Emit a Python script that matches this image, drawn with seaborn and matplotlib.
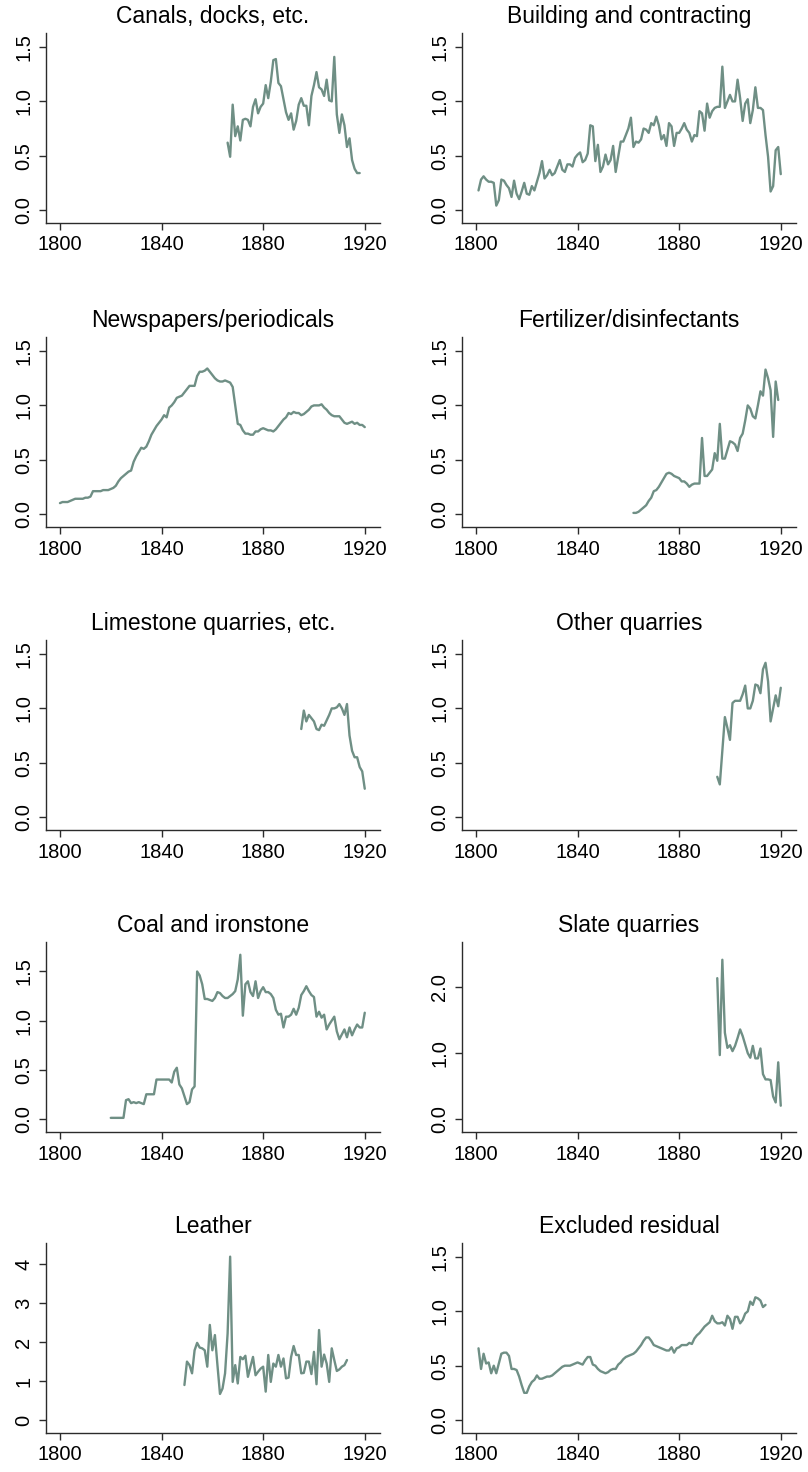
import numpy as np
import pandas as pd
import matplotlib
matplotlib.use("Agg")
import matplotlib.pyplot as plt
import seaborn as sns

# ---------------- data ----------------
canals_start = 1866
canals = [0.62, 0.49, 0.97, 0.68, 0.77, 0.64, 0.83, 0.84, 0.83, 0.77, 0.95, 1.02, 0.89, 0.95,
          0.98, 1.15, 1.03, 1.18, 1.38, 1.39, 1.17, 1.14, 1.02, 0.90, 0.83, 0.89, 0.74, 0.82,
          0.97, 1.03, 0.96, 0.96, 0.78, 1.05, 1.15, 1.27, 1.13, 1.11, 1.05, 1.20, 1.01, 1.00,
          1.41, 0.88, 0.71, 0.88, 0.78, 0.58, 0.66, 0.46, 0.38, 0.34, 0.34]

building_start = 1801
building = [0.18, 0.28, 0.31, 0.28, 0.26, 0.26, 0.25, 0.04, 0.09, 0.28, 0.27, 0.23, 0.20, 0.12,
            0.27, 0.15, 0.10, 0.17, 0.25, 0.15, 0.14, 0.22, 0.18, 0.26, 0.34, 0.45, 0.29, 0.32,
            0.37, 0.32, 0.34, 0.40, 0.46, 0.37, 0.35, 0.42, 0.42, 0.40, 0.48, 0.51, 0.53, 0.44,
            0.46, 0.52, 0.78, 0.77, 0.45, 0.60, 0.35, 0.40, 0.51, 0.42, 0.46, 0.59, 0.35, 0.49,
            0.63, 0.63, 0.69, 0.75, 0.85, 0.58, 0.63, 0.62, 0.65, 0.75, 0.74, 0.71, 0.80, 0.78,
            0.86, 0.78, 0.65, 0.69, 0.59, 0.80, 0.77, 0.59, 0.71, 0.71, 0.75, 0.80, 0.74, 0.71,
            0.63, 0.69, 0.68, 0.91, 0.89, 0.73, 0.98, 0.85, 0.91, 0.94, 0.95, 0.95, 1.32, 0.94,
            1.00, 1.06, 1.00, 1.00, 1.20, 1.03, 0.82, 0.98, 1.02, 0.80, 0.92, 1.13, 0.94, 0.94,
            0.92, 0.69, 0.49, 0.17, 0.22, 0.55, 0.58, 0.33]

news_start = 1800
news = [0.10, 0.11, 0.11, 0.11, 0.12, 0.13, 0.14, 0.14, 0.14, 0.14, 0.15, 0.15, 0.16, 0.21,
        0.21, 0.21, 0.21, 0.22, 0.22, 0.22, 0.23, 0.24, 0.26, 0.30, 0.33, 0.35, 0.37, 0.39,
        0.40, 0.48, 0.53, 0.57, 0.61, 0.60, 0.62, 0.67, 0.73, 0.77, 0.81, 0.84, 0.87, 0.91,
        0.89, 0.98, 1.00, 1.03, 1.07, 1.08, 1.09, 1.12, 1.15, 1.18, 1.18, 1.18, 1.27, 1.31,
        1.31, 1.32, 1.34, 1.31, 1.28, 1.25, 1.23, 1.22, 1.22, 1.23, 1.22, 1.21, 1.17, 1.00,
        0.83, 0.82, 0.77, 0.74, 0.74, 0.73, 0.73, 0.76, 0.76, 0.78, 0.79, 0.78, 0.77, 0.77,
        0.76, 0.78, 0.81, 0.84, 0.87, 0.89, 0.93, 0.92, 0.94, 0.93, 0.93, 0.91, 0.92, 0.94,
        0.96, 0.99, 1.00, 1.00, 1.00, 1.01, 0.98, 0.96, 0.93, 0.91, 0.90, 0.90, 0.90, 0.87,
        0.84, 0.83, 0.84, 0.85, 0.83, 0.84, 0.82, 0.82, 0.80]

fert_start = 1862
fert = [0.01, 0.01, 0.02, 0.04, 0.06, 0.08, 0.12, 0.15, 0.21, 0.22, 0.25, 0.29, 0.33, 0.37,
        0.38, 0.37, 0.35, 0.34, 0.33, 0.30, 0.30, 0.28, 0.25, 0.27, 0.28, 0.28, 0.28, 0.70,
        0.35, 0.35, 0.38, 0.41, 0.56, 0.49, 0.83, 0.51, 0.51, 0.59, 0.67, 0.66, 0.64, 0.58,
        0.70, 0.74, 0.86, 1.00, 0.97, 0.90, 0.88, 1.00, 1.13, 1.09, 1.33, 1.25, 1.14, 0.71,
        1.22, 1.05]

lime_start = 1895
lime = [0.81, 0.98, 0.88, 0.94, 0.91, 0.88, 0.81, 0.80, 0.85, 0.84, 0.89, 0.94, 1.00, 1.00,
        1.01, 1.04, 1.00, 0.94, 1.04, 0.75, 0.61, 0.55, 0.55, 0.46, 0.42, 0.26]

otherq_start = 1895
otherq = [0.37, 0.30, 0.61, 0.92, 0.82, 0.71, 1.05, 1.07, 1.07, 1.07, 1.13, 1.21, 1.00, 1.00,
          1.07, 1.22, 1.21, 1.14, 1.36, 1.42, 1.25, 0.88, 1.00, 1.12, 1.02, 1.19]

coal_start = 1820
coal = [0.01, 0.01, 0.01, 0.01, 0.01, 0.01, 0.19, 0.20, 0.16, 0.17, 0.16, 0.17, 0.16, 0.15,
        0.25, 0.25, 0.25, 0.25, 0.40, 0.40, 0.40, 0.40, 0.40, 0.40, 0.37, 0.48, 0.52, 0.35,
        0.31, 0.23, 0.15, 0.17, 0.30, 0.33, 1.50, 1.46, 1.37, 1.22, 1.22, 1.21, 1.20, 1.23,
        1.29, 1.28, 1.25, 1.23, 1.23, 1.25, 1.27, 1.30, 1.42, 1.67, 1.05, 1.37, 1.40, 1.29,
        1.25, 1.40, 1.23, 1.30, 1.34, 1.29, 1.29, 1.27, 1.23, 1.11, 1.06, 1.07, 0.93, 1.04,
        1.04, 1.06, 1.12, 1.06, 1.13, 1.26, 1.30, 1.35, 1.30, 1.26, 1.24, 1.04, 1.09, 1.03,
        1.06, 0.91, 0.96, 1.00, 1.04, 0.89, 0.81, 0.86, 0.91, 0.83, 0.93, 0.85, 0.91, 0.96,
        0.93, 0.93, 1.08]

slate_start = 1895
slate = [2.14, 0.97, 2.42, 1.31, 1.08, 1.12, 1.03, 1.11, 1.23, 1.36, 1.26, 1.13, 1.00, 0.93,
         1.11, 0.92, 0.92, 1.07, 0.68, 0.60, 0.60, 0.59, 0.34, 0.25, 0.86, 0.20]

leather_start = 1849
leather = [0.90, 1.50, 1.41, 1.20, 1.79, 1.98, 1.86, 1.84, 1.79, 1.37, 2.44, 1.79, 2.18, 1.41,
           0.67, 0.81, 1.20, 2.22, 4.19, 0.98, 1.41, 0.94, 1.62, 1.56, 1.65, 1.11, 1.37, 1.62,
           1.15, 1.24, 1.32, 1.37, 0.73, 1.67, 0.98, 1.45, 1.37, 1.67, 1.37, 1.58, 1.07, 1.09,
           1.62, 1.90, 1.67, 1.67, 1.20, 1.21, 1.50, 1.50, 1.18, 1.75, 0.92, 2.31, 1.37, 1.68,
           1.45, 0.98, 1.84, 1.54, 1.26, 1.30, 1.37, 1.41, 1.54]

resid_start = 1801
resid = [0.66, 0.47, 0.61, 0.52, 0.53, 0.43, 0.50, 0.43, 0.52, 0.61, 0.62, 0.62, 0.59, 0.47,
         0.47, 0.46, 0.40, 0.32, 0.25, 0.25, 0.31, 0.35, 0.37, 0.41, 0.38, 0.38, 0.39, 0.40,
         0.40, 0.41, 0.43, 0.45, 0.47, 0.49, 0.50, 0.50, 0.50, 0.51, 0.52, 0.53, 0.52, 0.51,
         0.55, 0.58, 0.58, 0.51, 0.50, 0.47, 0.45, 0.44, 0.43, 0.44, 0.46, 0.47, 0.47, 0.51,
         0.53, 0.56, 0.58, 0.59, 0.60, 0.61, 0.63, 0.66, 0.69, 0.73, 0.76, 0.76, 0.73, 0.69,
         0.68, 0.67, 0.66, 0.65, 0.64, 0.64, 0.67, 0.62, 0.66, 0.67, 0.69, 0.69, 0.69, 0.71,
         0.70, 0.75, 0.78, 0.80, 0.83, 0.86, 0.88, 0.90, 0.96, 0.91, 0.89, 0.89, 0.90, 0.87,
         0.96, 0.93, 0.84, 0.95, 0.95, 0.89, 0.92, 0.98, 1.00, 1.09, 1.06, 1.13, 1.12, 1.10,
         1.04, 1.06]

titles = ["Canals, docks, etc.", "Building and contracting",
          "Newspapers/periodicals", "Fertilizer/disinfectants",
          "Limestone quarries, etc.", "Other quarries",
          "Coal and ironstone", "Slate quarries",
          "Leather", "Excluded residual"]
series = [(canals_start, canals), (building_start, building),
          (news_start, news), (fert_start, fert),
          (lime_start, lime), (otherq_start, otherq),
          (coal_start, coal), (slate_start, slate),
          (leather_start, leather), (resid_start, resid)]

x_ticks = [1800, 1840, 1880, 1920]
y_ticks_std = [0.0, 0.5, 1.0, 1.5]
y_ticks = [y_ticks_std] * 6 + [y_ticks_std, [0.0, 1.0, 2.0], [0, 1, 2, 3, 4], y_ticks_std]
y_fmt = ["{:.1f}"] * 8 + ["{:.0f}", "{:.1f}"]
y_lims = [(-0.12, 1.63)] * 6 + [(-0.134, 1.80), (-0.20, 2.69), (-0.33, 4.54), (-0.12, 1.63)]

# ---------------- style ----------------
sns.set_style("ticks")
plt.rcParams["font.family"] = ["Liberation Sans", "DejaVu Sans"]
plt.rcParams["text.color"] = "black"
plt.rcParams["axes.titlecolor"] = "black"

W, H = 808, 1472
fig = plt.figure(figsize=(W / 100, H / 100), dpi=100)
line_color = "#6f8f85"
spine_color = "#2b2b2b"

col_left = [46, 462]
ax_w = 334
ax_h = 190
row_top = [33, 337, 640, 942, 1243]

for i, (title, (start, vals)) in enumerate(zip(titles, series)):
    r, c = divmod(i, 2)
    left = col_left[c] / W
    bottom = 1 - (row_top[r] + ax_h) / H
    ax = fig.add_axes([left, bottom, ax_w / W, ax_h / H])
    df = pd.DataFrame({"year": np.arange(start, start + len(vals)), "value": vals})
    sns.lineplot(data=df, x="year", y="value", ax=ax, color=line_color, linewidth=1.7)
    ax.set_xlim(1794.5, 1926)
    ax.set_ylim(*y_lims[i])
    ax.set_xticks(x_ticks)
    ax.set_xticklabels([str(t) for t in x_ticks])
    ax.set_yticks(y_ticks[i])
    ax.set_yticklabels([y_fmt[i].format(t) for t in y_ticks[i]], rotation=90, va="center")
    ax.set_xlabel("")
    ax.set_ylabel("")
    ax.set_title(title, fontsize=16.5, pad=7, color="black")
    for s in ["top", "right"]:
        ax.spines[s].set_visible(False)
    for s in ["left", "bottom"]:
        ax.spines[s].set_color(spine_color)
        ax.spines[s].set_linewidth(1.0)
    ax.tick_params(axis="both", labelsize=14.5, length=5, width=1.0, color=spine_color,
                   labelcolor="black", direction="out", pad=4)

fig.savefig("out.png", dpi=100, facecolor="white")
